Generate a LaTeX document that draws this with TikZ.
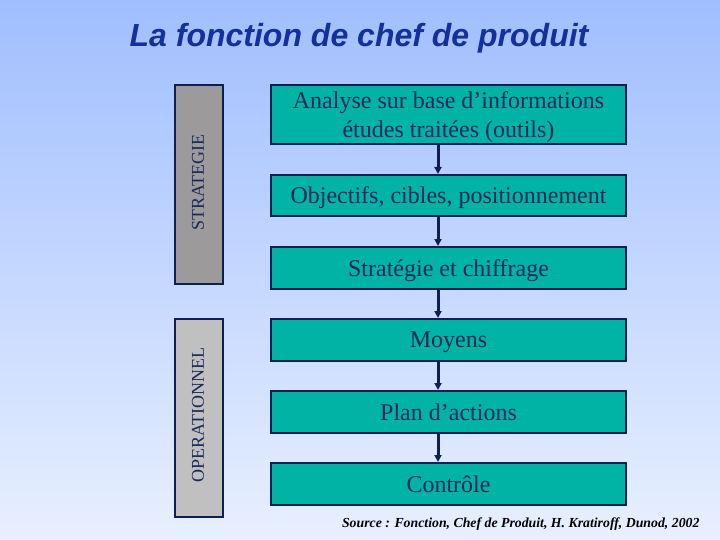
\documentclass[tikz,border=0pt]{standalone}
\usepackage{fontspec}
\setmainfont{Liberation Serif}
\newfontfamily\arialfont{Liberation Sans}
\usetikzlibrary{arrows.meta}
\definecolor{bgtop}{HTML}{A0BEFF}
\definecolor{bgbot}{HTML}{E8F0FF}
\definecolor{tealbox}{HTML}{00B3A4}
\definecolor{navy}{HTML}{0F2050}
\definecolor{txtnavy}{HTML}{1A2A55}
\definecolor{titleblue}{HTML}{14309A}
\definecolor{grayA}{HTML}{9C9A9A}
\definecolor{grayB}{HTML}{C0C0C0}
\tikzset{
  stepbox/.style={draw=navy, line width=2pt, fill=tealbox, text=txtnavy,
    minimum width=355pt, anchor=north west, inner sep=0pt, align=center,
    text depth=0pt, font=\fontsize{24}{29}\selectfont},
  sidebox/.style={draw=navy, line width=2pt, minimum width=48pt, anchor=north west,
    inner sep=0pt},
  sidelbl/.style={rotate=90, text=txtnavy, font=\fontsize{18}{20}\selectfont},
  flow/.style={draw=navy, line width=3pt, -{Triangle[length=7pt,width=7pt]}},
}
\begin{document}
\begin{tikzpicture}[x=1pt,y=-1pt]
\shade[top color=bgtop, bottom color=bgbot] (0,0) rectangle (720,540);
\useasboundingbox (0,0) rectangle (720,540);
\node[font=\arialfont\bfseries\itshape\fontsize{32}{36}\selectfont, text=titleblue] (title) at (359,38) {La fonction de chef de produit};
% side boxes
\node[sidebox, fill=grayA, minimum height=199pt] (strat) at (174,84) {};
\node[sidelbl] (stratlbl) at (198,183) {STRATEGIE};
\node[sidebox, fill=grayB, minimum height=198pt] (oper) at (174,318) {};
\node[sidelbl] (operlbl) at (198,415) {OPERATIONNEL};
% step boxes
\node[stepbox, minimum height=59pt] (b1) at (270,84) {Analyse sur base d’informations\\études traitées (outils)};
\node[stepbox, minimum height=41pt] (b2) at (270,174) {Objectifs, cibles, positionnement};
\node[stepbox, minimum height=42pt] (b3) at (270,246) {Stratégie et chiffrage};
\node[stepbox, minimum height=42pt] (b4) at (270,318) {Moyens};
\node[stepbox, minimum height=42pt] (b5) at (270,390) {Plan d’actions};
\node[stepbox, minimum height=42pt] (b6) at (270,462) {Contrôle};
% arrows
\draw[flow] ([xshift=-10.5pt]b1.south) -- ([xshift=-10.5pt]b2.north);
\draw[flow] ([xshift=-10.5pt]b2.south) -- ([xshift=-10.5pt]b3.north);
\draw[flow] ([xshift=-10.5pt]b3.south) -- ([xshift=-10.5pt]b4.north);
\draw[flow] ([xshift=-10.5pt]b4.south) -- ([xshift=-10.5pt]b5.north);
\draw[flow] ([xshift=-10.5pt]b5.south) -- ([xshift=-10.5pt]b6.north);
\node[anchor=east, font=\bfseries\itshape\fontsize{13.8}{16}\selectfont, text=black] (src) at (703,524) {Source : Fonction, Chef de Produit, H. Kratiroff, Dunod, 2002};
\end{tikzpicture}
\end{document}
